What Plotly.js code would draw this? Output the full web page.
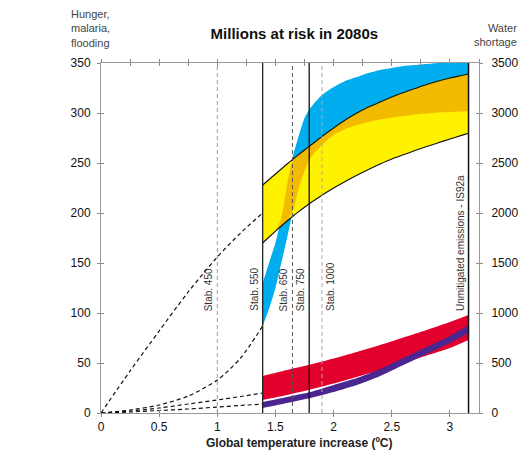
<!DOCTYPE html>
<html>
<head>
<meta charset="utf-8">
<script src="https://cdn.plot.ly/plotly-3.0.1.min.js"></script>
<style>html,body{margin:0;padding:0;background:#fff;}#chart{width:521px;height:452px;}</style>
</head>
<body>
<div id="chart"></div>
<script>
// ---------------- DATA ----------------
// Global temperature increase (°C) grid for the 2080s impact bands
const bandTemps = [1.39,1.45,1.5,1.55,1.6,1.65,1.7,1.75,1.8,1.9,2.0,2.1,2.2,2.3,2.4,2.5,2.6,2.7,2.8,2.9,3.0,3.1,3.16];
// Water shortage, millions at risk (right axis)
const waterLow  = [1700,1765,1818,1870,1920,1968,2014,2058,2100,2178,2250,2316,2378,2436,2490,2540,2582,2624,2664,2702,2740,2776,2798];
const waterHigh = [2280,2340,2390,2440,2490,2538,2585,2630,2675,2765,2850,2930,3000,3060,3110,3160,3205,3245,3285,3320,3350,3375,3390];
// Malaria, millions at risk (left axis)
const malariaLow  = [87,106,125,150,175,202,225,242,255,268,278,284,288,291,293.5,295.5,297,298.5,299.5,300.5,301,301.5,302];
const malariaHigh = [130,152,170,195,228,257,277,295,305,318,326,332,336,340,343,345,347,348,349,350,351,352,352];

// Hunger and coastal flooding, millions at risk (left axis)
const lowTemps    = [1.39,1.6,1.8,2.0,2.2,2.4,2.6,2.8,3.0,3.16];
const hungerLow   = [13,18,23.5,29.5,36,43,50,57.5,65,73];
const hungerHigh  = [37,43,48.5,54.5,61,68,75.5,83,91,98];
const floodLow    = [5,10,15,21,28,37,48,59,70,80];
const floodHigh   = [11,16,21,28,35,44,55,66,77,88];

// Dashed approach curves from 0 °C to the Stab. 550 level
const dashTemps   = [0,0.25,0.5,0.75,1.0,1.2,1.39];
const waterDash   = [0,420,820,1210,1560,1800,2000];
const malariaDash = [0,3,8,17,33,55,87];
const hungerDash  = [0,2,5,9,13,16.5,20];
const floodDash   = [0,1,2.5,4,6,7.5,9];

// Stabilisation scenarios (temperature reached by 2080s)
const scenTemps  = [1.0,1.39,1.646,1.79,1.9,3.16];
const scenLabels = ['Stab. 450','Stab. 550','Stab. 650','Stab. 750','Stab. 1000','Unmitigated emissions - IS92a'];

// Axis ticks
const xTickVals = [0,0.5,1,1.5,2,2.5,3];
const xTickText = ['0','0.5','1','1.5','2','2.5','3'];
const yLeftTicks  = [0,50,100,150,200,250,300,350];
const yRightTicks = [0,500,1000,1500,2000,2500,3000,3500];

// ---------------- STYLES ----------------
const FONT = 'Liberation Sans, Arial, Helvetica, sans-serif';
const COL = {blue:'#00aeef', yellow:'#fff200', orange:'#f2bb00', red:'#e2002d', purple:'#4b2590'};
const scenStyle = [
  {dash:'4px,3px', color:'#9a9a9a', width:1, side:'left'},
  {dash:'solid',   color:'#222',    width:1.3, side:'left'},
  {dash:'4px,3px', color:'#555',    width:1, side:'left'},
  {dash:'solid',   color:'#111',    width:1.3, side:'left'},
  {dash:'4px,3px', color:'#a8a8a8', width:1, side:'right'},
  {dash:'solid',   color:'#111',    width:1.5, side:'left'}
];
const SPL = {shape:'spline', smoothing:0.6};
const axisRatio = yRightTicks[yRightTicks.length-1] / yLeftTicks[yLeftTicks.length-1];

function band(x, lo, hi, color, yaxis){
  return [
    {x:x, y:lo, mode:'lines', line:Object.assign({width:0}, SPL), yaxis:yaxis, hoverinfo:'skip', showlegend:false},
    {x:x, y:hi, mode:'lines', line:Object.assign({width:0}, SPL), fill:'tonexty', fillcolor:color, yaxis:yaxis, hoverinfo:'skip', showlegend:false}
  ];
}
function edge(x, y, yaxis){
  return {x:x, y:y, mode:'lines', line:Object.assign({color:'#111', width:1.1}, SPL), yaxis:yaxis, hoverinfo:'skip', showlegend:false};
}
function dashed(x, y, yaxis){
  return {x:x, y:y, mode:'lines', line:{color:'#111', width:1.2, dash:'4px,3px', shape:'spline', smoothing:0.8}, yaxis:yaxis, hoverinfo:'skip', showlegend:false};
}

// Overlap of the malaria band with the water-shortage band (drawn orange)
const orangeLow = bandTemps.map((t,i) => Math.max(malariaLow[i]*axisRatio, waterLow[i]));
const orangeHigh = bandTemps.map((t,i) => Math.max(orangeLow[i], Math.min(malariaHigh[i]*axisRatio, waterHigh[i])));

const data = [].concat(
  band(bandTemps, malariaLow, malariaHigh, COL.blue, 'y'),
  band(lowTemps, hungerLow, hungerHigh, COL.red, 'y'),
  band(lowTemps, floodLow, floodHigh, COL.purple, 'y'),
  [dashed(dashTemps, malariaDash, 'y'), dashed(dashTemps, hungerDash, 'y'), dashed(dashTemps, floodDash, 'y')],
  band(bandTemps, waterLow, waterHigh, COL.yellow, 'y3'),
  band(bandTemps, orangeLow, orangeHigh, COL.orange, 'y3'),
  [edge(bandTemps, waterLow, 'y3'), edge(bandTemps, waterHigh, 'y3'), dashed(dashTemps, waterDash, 'y3')],
  // empty traces that carry the extra tick axes (inner ticks / top ticks)
  [{x:[], y:[], xaxis:'x2', yaxis:'y', showlegend:false},
   {x:[], y:[], xaxis:'x3', yaxis:'y', showlegend:false},
   {x:[], y:[], xaxis:'x4', yaxis:'y', showlegend:false},
   {x:[], y:[], xaxis:'x', yaxis:'y2', showlegend:false},
   {x:[], y:[], xaxis:'x', yaxis:'y4', showlegend:false}]
);

const xRange = [0,3.25];
const yRange = [0,350];
const AX = {showgrid:false, zeroline:false, tickcolor:'#8a8a8a', tickwidth:1, ticklen:3, fixedrange:true};

const shapes = scenTemps.map((t,i) => ({
  type:'line', xref:'x', yref:'y', x0:t, x1:t, y0:yRange[0], y1:yRange[1],
  line:{color:scenStyle[i].color, width:scenStyle[i].width, dash:scenStyle[i].dash}
}));

const annotations = scenTemps.map((t,i) => ({
  x:t, y:100, xref:'x', yref:'y', text:scenLabels[i], showarrow:false, textangle:-90,
  xanchor: scenStyle[i].side === 'left' ? 'right' : 'left', yanchor:'bottom',
  xshift: scenStyle[i].side === 'left' ? -1 : 1,
  font:{family:FONT, size:10, color:'#333'}
})).concat([
  {xref:'paper', yref:'paper', x:-0.085, y:1.099, xanchor:'left', yanchor:'middle', align:'left',
   text:'Hunger,<br>malaria,<br>flooding', showarrow:false, font:{family:FONT, size:11, color:'#444'}},
  {xref:'paper', yref:'paper', x:1.106, y:1.079, xanchor:'right', yanchor:'middle', align:'right',
   text:'Water<br>shortage', showarrow:false, font:{family:FONT, size:11, color:'#444'}},
  {xref:'paper', yref:'paper', x:0.524, y:-0.086, xanchor:'center', yanchor:'middle',
   text:'<b>Global temperature increase (ºC)</b>', showarrow:false, font:{family:FONT, size:12, color:'#222'}}
]);

const layout = {
  width:521, height:452,
  margin:{l:101, r:42, t:63, b:39, pad:0},
  paper_bgcolor:'#fff', plot_bgcolor:'#fff',
  font:{family:FONT, size:12, color:'#222'},
  showlegend:false,
  title:{text:'<b>Millions at risk in 2080s</b>', x:0.565, xanchor:'center', y:0.926, yanchor:'middle',
         font:{family:FONT, size:15, color:'#111'}},
  xaxis: Object.assign({}, AX, {range:xRange, tickmode:'array', tickvals:xTickVals, ticktext:xTickText, ticks:'outside',
          showline:true, linecolor:'#999', linewidth:1, tickfont:{size:12, color:'#111'}}),
  xaxis2: Object.assign({}, AX, {overlaying:'x', anchor:'y', side:'bottom', range:xRange, tickmode:'array', tickvals:xTickVals,
          ticks:'inside', showticklabels:false, showline:false}),
  xaxis3: Object.assign({}, AX, {overlaying:'x', anchor:'y', side:'top', range:xRange, tick0:0, dtick:0.25,
          ticks:'outside', showticklabels:false, showline:true, linecolor:'#999', linewidth:1}),
  xaxis4: Object.assign({}, AX, {overlaying:'x', anchor:'y', side:'top', range:xRange, tick0:0, dtick:0.25,
          ticks:'inside', showticklabels:false, showline:false}),
  yaxis: Object.assign({}, AX, {range:yRange, tickmode:'array', tickvals:yLeftTicks, ticks:'outside', showline:true,
          linecolor:'#999', linewidth:1, tickfont:{size:12, color:'#111'}, ticklabelstandoff:4}),
  yaxis2: Object.assign({}, AX, {overlaying:'y', anchor:'x', side:'left', range:yRange, tickmode:'array', tickvals:yLeftTicks,
          ticks:'inside', showticklabels:false, showline:false}),
  yaxis3: Object.assign({}, AX, {overlaying:'y', anchor:'x', side:'right', range:[0,3500], tickmode:'array', tickvals:yRightTicks,
          ticks:'outside', showline:true, linecolor:'#999', linewidth:1, tickfont:{size:12, color:'#111'}, ticklabelstandoff:6}),
  yaxis4: Object.assign({}, AX, {overlaying:'y', anchor:'x', side:'right', range:[0,3500], tickmode:'array', tickvals:yRightTicks,
          ticks:'inside', showticklabels:false, showline:false}),
  shapes: shapes,
  annotations: annotations
};

Plotly.newPlot('chart', data, layout, {displayModeBar:false, staticPlot:true});
</script>
</body>
</html>
